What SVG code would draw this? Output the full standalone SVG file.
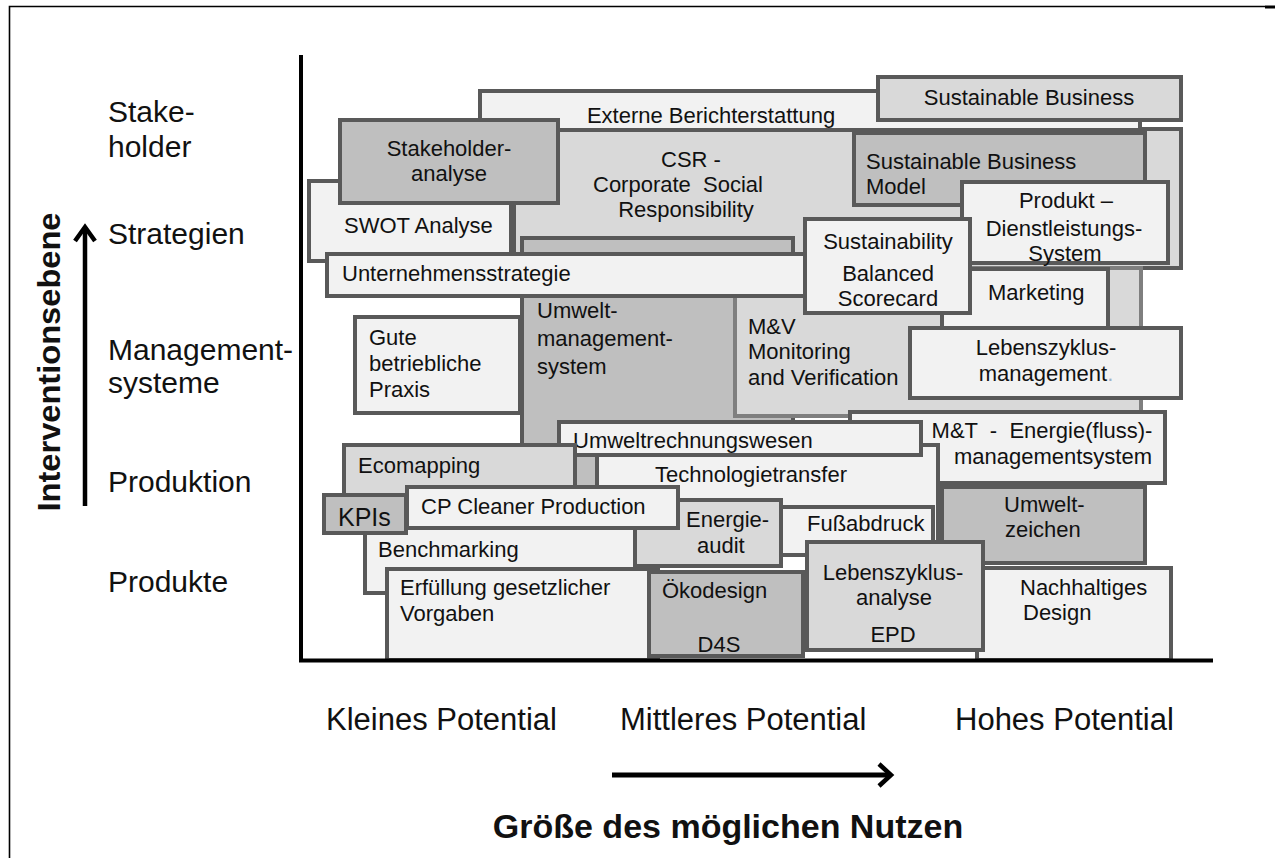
<svg xmlns="http://www.w3.org/2000/svg" width="1275" height="858" viewBox="0 0 1275 858">
<style>
  .b{stroke:#595959;stroke-width:4}
  .l{fill:#f2f2f2}
  .m{fill:#d9d9d9}
  .d{fill:#bfbfbf}
  text{font-family:"Liberation Sans",Arial,sans-serif;fill:#111}
  .t{font-size:22px}
  .c{text-anchor:middle}
  .ax{font-size:31px}
  .lv{font-size:30px}
  .ln{stroke:#000;fill:none}
</style>
<rect width="1275" height="858" fill="#fff"/>
<g id="frame">
  <path d="M9.5,858 V6.5 H1265" class="ln" stroke-width="1.6"/>
  <path d="M1265,7 H1275" class="ln" stroke-width="3"/>
</g>
<g id="n-csr"><rect x="514" y="129" width="667" height="139" class="b m"/>
  <text class="t c" x="691" y="167">CSR -</text>
  <text class="t c" x="678" y="192" xml:space="preserve">Corporate  Social</text>
  <text class="t c" x="686" y="217">Responsibility</text></g>
<g id="n-externe"><rect x="480" y="91" width="660" height="39" class="b l"/>
  <text class="t c" x="711" y="123">Externe Berichterstattung</text></g>
<g id="n-sb"><rect x="878" y="77" width="303" height="43" class="b m"/>
  <text class="t c" x="1029" y="105">Sustainable Business</text></g>
<g id="n-swot"><rect x="309" y="181" width="202" height="80" class="b l"/>
  <text class="t" x="344" y="233">SWOT Analyse</text></g>
<g id="n-stakeholder"><rect x="340" y="120" width="218" height="83" class="b d"/>
  <text class="t c" x="449" y="156">Stakeholder-</text>
  <text class="t c" x="449" y="181">analyse</text></g>
<g id="n-sbm"><rect x="854" y="133" width="291" height="72" class="b d"/>
  <text class="t" x="866" y="169">Sustainable Business</text>
  <text class="t" x="866" y="194">Model</text></g>
<g id="n-umweltms"><rect x="522" y="238" width="271" height="260" class="b d"/>
  <text class="t" x="537" y="318">Umwelt-</text>
  <text class="t" x="537" y="346">management-</text>
  <text class="t" x="537" y="374">system</text></g>
<g id="n-mv"><rect x="735" y="268" width="406" height="148" class="m" stroke="#7f7f7f" stroke-width="4"/>
  <text class="t" x="748" y="334">M&amp;V</text>
  <text class="t" x="748" y="359">Monitoring</text>
  <text class="t" x="748" y="385">and Verification</text></g>
<g id="n-unternehmen"><rect x="327" y="254" width="481" height="42" class="b l"/>
  <text class="t" x="342" y="281">Unternehmensstrategie</text></g>
<g id="n-produkt"><rect x="962" y="182" width="206" height="81" class="b l"/>
  <text class="t c" x="1066" y="208">Produkt –</text>
  <text class="t c" x="1064" y="236">Dienstleistungs-</text>
  <text class="t c" x="1065" y="261">System</text></g>
<g id="n-marketing"><rect x="942" y="269" width="166" height="61" class="b l"/>
  <text class="t" x="988" y="300">Marketing</text></g>
<g id="n-sbsc"><rect x="805" y="219" width="165" height="94" class="b l"/>
  <text class="t c" x="888" y="249">Sustainability</text>
  <text class="t c" x="888" y="281">Balanced</text>
  <text class="t c" x="888" y="306">Scorecard</text></g>
<g id="n-lzm"><rect x="910" y="328" width="271" height="70" class="b l"/>
  <text class="t c" x="1046" y="355">Lebenszyklus-</text>
  <text class="t c" x="1046" y="381">management<tspan fill="#9db0c8">.</tspan></text></g>
<g id="n-gute"><rect x="355" y="317" width="165" height="96" class="b l"/>
  <text class="t" x="369" y="345">Gute</text>
  <text class="t" x="369" y="371">betriebliche</text>
  <text class="t" x="369" y="397">Praxis</text></g>
<g id="n-mt"><rect x="850" y="412" width="315" height="71" class="b l"/>
  <text class="t c" x="1042" y="438" xml:space="preserve">M&amp;T  -  Energie(fluss)-</text>
  <text class="t c" x="1053" y="464">managementsystem</text></g>
<g id="n-techno"><rect x="597" y="445" width="341" height="110" class="b l"/>
  <text class="t c" x="751" y="482">Technologietransfer</text></g>
<g id="n-urw"><rect x="559" y="422" width="362" height="33" class="b l"/>
  <text class="t" x="573" y="448">Umweltrechnungswesen</text></g>
<g id="n-ecomapping"><rect x="344" y="445" width="231" height="53" class="b m"/>
  <text class="t" x="358" y="473">Ecomapping</text></g>
<g id="n-benchmarking"><rect x="365" y="522" width="283" height="71" class="b l"/>
  <text class="t" x="378" y="557">Benchmarking</text></g>
<g id="n-fuss"><rect x="777" y="507" width="156" height="48" class="b l"/>
  <text class="t" x="807" y="531">Fußabdruck</text></g>
<g id="n-energieaudit"><rect x="635" y="500" width="146" height="66" class="b m"/>
  <text class="t" x="686" y="527">Energie-</text>
  <text class="t" x="697" y="553">audit</text></g>
<g id="n-kpis"><rect x="324" y="495" width="82" height="38" class="b d"/>
  <text x="338" y="526" font-size="25">KPIs</text></g>
<g id="n-cp"><rect x="407" y="487" width="271" height="41" class="b l"/>
  <text class="t" x="421" y="514">CP Cleaner Production</text></g>
<g id="n-umweltzeichen"><rect x="942" y="487" width="203" height="76" class="b d"/>
  <text class="t" x="1004" y="512">Umwelt-</text>
  <text class="t" x="1005" y="537">zeichen</text></g>
<g id="n-nachhaltig"><rect x="977" y="568" width="194" height="92" class="b l"/>
  <text class="t" x="1020" y="595">Nachhaltiges</text>
  <text class="t" x="1023" y="620">Design</text></g>
<g id="n-erfuellung"><rect x="387" y="569" width="271" height="91" class="b l"/>
  <text class="t" x="400" y="595">Erfüllung gesetzlicher</text>
  <text class="t" x="400" y="621">Vorgaben</text></g>
<g id="n-oekodesign"><rect x="649" y="572" width="154" height="84" class="b d"/>
  <text class="t" x="662" y="598">Ökodesign</text>
  <text class="t c" x="719" y="652">D4S</text></g>
<g id="n-lza"><rect x="807" y="542" width="176" height="108" class="b m"/>
  <text class="t c" x="893" y="580">Lebenszyklus-</text>
  <text class="t c" x="894" y="605">analyse</text>
  <text class="t c" x="893" y="642">EPD</text></g>
<g id="connectors">
  <path d="M301,55 V662 M299,660.5 H1213" class="ln" stroke-width="4"/>
  <path d="M85,506 V229" class="ln" stroke-width="4.5"/>
  <path d="M75,241 L85,227 L95,241" class="ln" stroke-width="4.5"/>
  <path d="M612,775 H889" class="ln" stroke-width="5"/>
  <path d="M879,764 L891,775 L879,786" class="ln" stroke-width="4.5"/>
</g>
<g id="labels">
  <text class="lv" x="108" y="122">Stake-</text>
  <text class="lv" x="108" y="157">holder</text>
  <text class="lv" x="108" y="244">Strategien</text>
  <text class="lv" x="108" y="360">Management-</text>
  <text class="lv" x="108" y="393">systeme</text>
  <text class="lv" x="108" y="492">Produktion</text>
  <text class="lv" x="108" y="592">Produkte</text>
  <text transform="translate(60,362) rotate(-90)" text-anchor="middle" font-size="31" font-weight="bold" textLength="299" lengthAdjust="spacingAndGlyphs">Interventionsebene</text>
  <text class="ax" x="326" y="730">Kleines Potential</text>
  <text class="ax" x="620" y="730">Mittleres Potential</text>
  <text class="ax" x="955" y="730">Hohes Potential</text>
  <text x="728" y="838" text-anchor="middle" font-size="34" font-weight="bold">Größe des möglichen Nutzen</text>
</g>
</svg>
